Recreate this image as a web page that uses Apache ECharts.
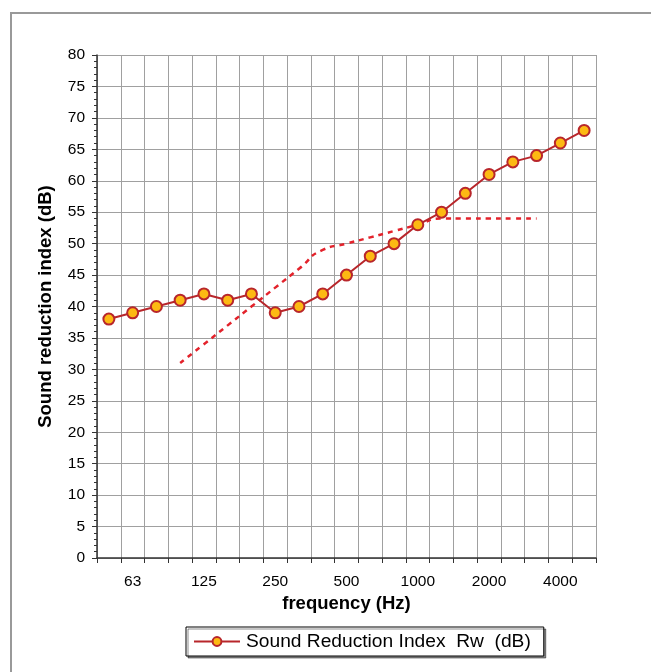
<!DOCTYPE html>
<html>
<head>
<meta charset="utf-8">
<script src="https://cdn.jsdelivr.net/npm/echarts@6/dist/echarts.min.js"></script>
<style>
  html, body { margin: 0; padding: 0; background: #fff; }
  #chart { width: 651px; height: 672px; }
</style>
</head>
<body>
<div id="chart"></div>
<script>
// 1/3-octave bands (Hz)
var bands = ['50', '63', '80', '100', '125', '160', '200', '250', '315', '400', '500',
             '630', '800', '1000', '1250', '1600', '2000', '2500', '3150', '4000', '5000'];
// measured sound reduction index (dB)
var measured = [38, 39, 40, 41, 42, 41, 42, 39, 40, 42, 45, 48, 50, 53, 55, 58, 61, 63, 64, 66, 68];
// shifted reference curve, 100 .. 3150 Hz
var reference = [null, null, null, 31, 34, 37, 40, 43, 46, 49, 50, 51, 52, 53, 54, 54, 54, 54, 54, null, null];
var yTicks = { min: 0, max: 80, step: 5 };

var chart = echarts.init(document.getElementById('chart'));

var font = '"Liberation Sans", Arial, sans-serif';

var option = {
    animation: false,
    backgroundColor: '#fff',
    graphic: [{
        type: 'rect',
        shape: { x: 11, y: 13, width: 700, height: 700 },
        style: { fill: 'none', stroke: '#999', lineWidth: 2 },
        silent: true
    }],
    grid: { left: 97, right: 55, top: 55, bottom: 114 },
    legend: {
        data: ['Sound Reduction Index  Rw  (dB)'],
        left: 186,
        top: 627,
        itemWidth: 46,
        itemHeight: 11,
        itemGap: 0,
        padding: [5, 13, 5, 7],
        borderColor: '#000',
        borderWidth: 1,
        backgroundColor: '#fff',
        shadowColor: 'rgba(0,0,0,0.45)',
        shadowOffsetX: 2,
        shadowOffsetY: 2,
        textStyle: { fontFamily: font, fontSize: 19.2, color: '#000', padding: [0, 0, 0, 1] }
    },
    xAxis: {
        type: 'category',
        data: bands,
        boundaryGap: true,
        name: 'frequency (Hz)',
        nameLocation: 'middle',
        nameGap: 36,
        nameTextStyle: { fontFamily: font, fontSize: 18.5, fontWeight: 'bold', color: '#000' },
        axisLine: { lineStyle: { color: '#333', width: 1.5 } },
        axisTick: { show: true, interval: 0, length: 5, lineStyle: { color: '#333' } },
        axisLabel: {
            interval: function (i) { return i % 3 === 1; },
            margin: 16,
            fontFamily: font,
            fontSize: 15.5,
            color: '#000'
        },
        splitLine: { show: true, interval: 0, lineStyle: { color: '#a0a0a0', width: 1 } }
    },
    yAxis: {
        type: 'value',
        min: yTicks.min,
        max: yTicks.max,
        interval: yTicks.step,
        name: 'Sound reduction index (dB)',
        nameLocation: 'middle',
        nameGap: 42,
        nameTextStyle: { fontFamily: font, fontSize: 18.5, fontWeight: 'bold', color: '#000' },
        axisLine: { show: true, lineStyle: { color: '#333', width: 1.5 } },
        axisTick: { show: true, length: 5, lineStyle: { color: '#333' } },
        minorTick: { show: true, splitNumber: 5, length: 3, lineStyle: { color: '#333' } },
        axisLabel: { margin: 12, fontFamily: font, fontSize: 15.5, color: '#000' },
        splitLine: { show: true, lineStyle: { color: '#a0a0a0', width: 1 } }
    },
    series: [
        {
            name: 'reference',
            type: 'line',
            data: reference,
            smooth: 0.65,
            showSymbol: false,
            symbol: 'none',
            lineStyle: { color: '#e3222b', width: 2.5, type: [5, 5] },
            z: 2
        },
        {
            name: 'Sound Reduction Index  Rw  (dB)',
            type: 'line',
            data: measured,
            symbol: 'circle',
            symbolSize: 11,
            lineStyle: { color: '#b8262b', width: 2 },
            itemStyle: { color: '#fdb913', borderColor: '#b8262b', borderWidth: 2 },
            z: 3
        }
    ]
};

chart.setOption(option);
</script>
</body>
</html>
